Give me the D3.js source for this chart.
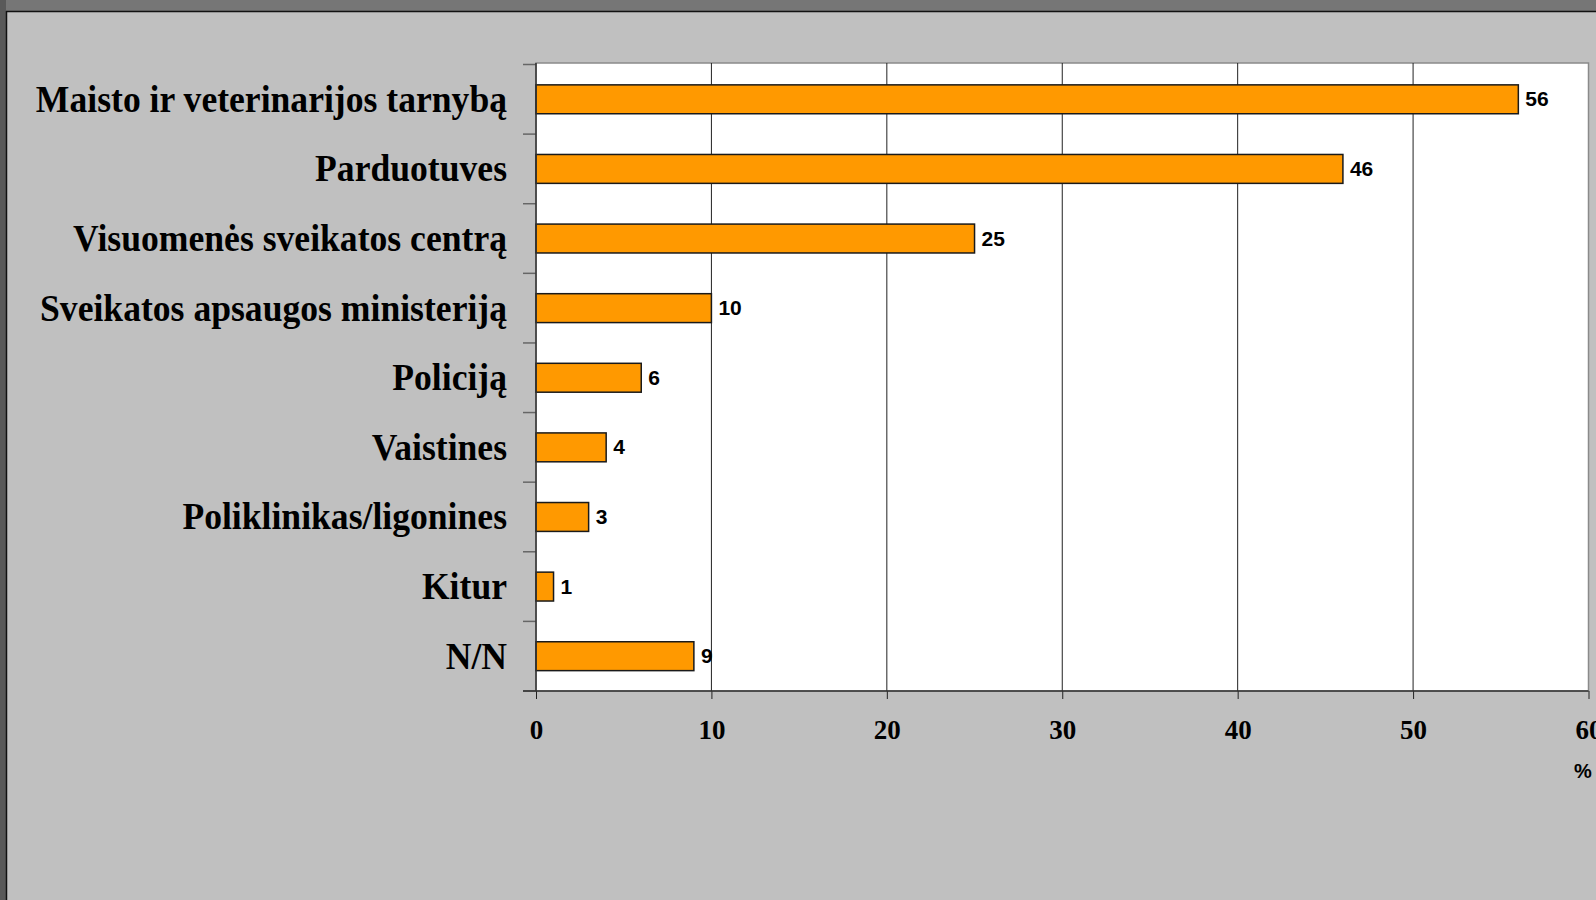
<!DOCTYPE html>
<html>
<head>
<meta charset="utf-8">
<script src="https://cdn.jsdelivr.net/npm/d3@7"></script>
<style>
  body { margin: 0; background: #c0c0c0; overflow: hidden; }
</style>
</head>
<body>
<div id="chart"></div>
<script>
// data (percent of respondents)
var categories = ["Maisto ir veterinarijos tarnybą", "Parduotuves", "Visuomenės sveikatos centrą",
                  "Sveikatos apsaugos ministeriją", "Policiją", "Vaistines",
                  "Poliklinikas/ligonines", "Kitur", "N/N"];
var values = [56, 46, 25, 10, 6, 4, 3, 1, 9];
var xTicks = [0, 10, 20, 30, 40, 50, 60];
var unitLabel = "%";

var width = 1596,
    height = 900;

var plot = { left: 536, right: 1588.5, top: 63, bottom: 691 };

var svg = d3.select("#chart")
    .append("svg")
    .attr("width", width)
    .attr("height", height);

// window frame: dark strips on top and left, then the grey sheet
svg.append("rect").attr("x", 0).attr("y", 0).attr("width", width).attr("height", height).attr("fill", "#c0c0c0");
svg.append("rect").attr("x", 0).attr("y", 0).attr("width", width).attr("height", 11).attr("fill", "#767676");
svg.append("rect").attr("x", 0).attr("y", 0).attr("width", 6).attr("height", height).attr("fill", "#595959");
svg.append("line").attr("x1", 6.5).attr("x2", 6.5).attr("y1", 11).attr("y2", height)
    .attr("stroke", "#111").attr("stroke-width", 1.5);
svg.append("line").attr("x1", 6).attr("x2", width).attr("y1", 11.5).attr("y2", 11.5)
    .attr("stroke", "#111").attr("stroke-width", 1.5);

var x = d3.scaleLinear().domain([0, 60]).range([plot.left, plot.right]);

var y = d3.scaleBand()
    .domain(categories)
    .range([plot.top + 1.5, plot.bottom])
    .paddingInner(0.585)
    .paddingOuter(0.2925);

// plot area
svg.append("rect")
    .attr("x", plot.left)
    .attr("y", plot.top)
    .attr("width", plot.right - plot.left)
    .attr("height", plot.bottom - plot.top)
    .attr("fill", "#fff")
    .attr("stroke", "#8a8a8a")
    .attr("stroke-width", 1.5);

// vertical gridlines
svg.selectAll(".grid")
    .data(xTicks.filter(function(d) { return d > 0 && d < 60; }))
    .enter().append("line")
    .attr("class", "grid")
    .attr("x1", function(d) { return x(d); })
    .attr("x2", function(d) { return x(d); })
    .attr("y1", plot.top)
    .attr("y2", plot.bottom)
    .attr("stroke", "#222")
    .attr("stroke-width", 1);

// bars
svg.selectAll(".bar")
    .data(values)
    .enter().append("rect")
    .attr("class", "bar")
    .attr("x", x(0))
    .attr("y", function(d, i) { return y(categories[i]); })
    .attr("width", function(d) { return x(d) - x(0); })
    .attr("height", y.bandwidth())
    .attr("fill", "#ff9900")
    .attr("stroke", "#1a1a1a")
    .attr("stroke-width", 1.5);

// value labels
svg.selectAll(".val")
    .data(values)
    .enter().append("text")
    .attr("class", "val")
    .attr("x", function(d) { return x(d) + 7; })
    .attr("y", function(d, i) { return y(categories[i]) + y.bandwidth() / 2 + 7; })
    .attr("font-family", "'Liberation Sans', Arial, sans-serif")
    .attr("font-weight", "bold")
    .attr("font-size", "21px")
    .attr("fill", "#000")
    .text(function(d) { return d; });

// y axis: line, category boundary ticks and labels
var step = y.step();
var boundaries = categories.map(function(c) { return y(c) - (step - y.bandwidth()) / 2; });
boundaries.push(plot.bottom);

svg.selectAll(".ytick")
    .data(boundaries)
    .enter().append("line")
    .attr("class", "ytick")
    .attr("x1", plot.left - 13)
    .attr("x2", plot.left)
    .attr("y1", function(d) { return d; })
    .attr("y2", function(d) { return d; })
    .attr("stroke", "#666")
    .attr("stroke-width", 1.5);

svg.append("line")
    .attr("x1", plot.left).attr("x2", plot.left)
    .attr("y1", plot.top).attr("y2", plot.bottom)
    .attr("stroke", "#333").attr("stroke-width", 1.5);

// category labels, a little condensed like the original
svg.selectAll(".ylab")
    .data(categories)
    .enter().append("text")
    .attr("class", "ylab")
    .attr("transform", function(d) {
        return "translate(507," + (y(d) + y.bandwidth() / 2 + 12.5) + ") scale(0.95,1)";
    })
    .attr("text-anchor", "end")
    .attr("font-family", "'Liberation Serif', 'Times New Roman', serif")
    .attr("font-weight", "bold")
    .attr("font-size", "37.5px")
    .attr("fill", "#000")
    .text(function(d) { return d; });

// x axis
var xAxis = d3.axisBottom(x)
    .tickValues(xTicks)
    .tickSizeInner(8)
    .tickSizeOuter(0)
    .tickPadding(21);

var gx = svg.append("g")
    .attr("transform", "translate(0," + plot.bottom + ")")
    .call(xAxis);

gx.select(".domain").remove();
gx.append("line")
    .attr("x1", plot.left - 13).attr("x2", plot.right)
    .attr("y1", 0).attr("y2", 0)
    .attr("stroke", "#333").attr("stroke-width", 1.5);
gx.selectAll(".tick line").attr("stroke", "#222");
gx.selectAll(".tick text")
    .attr("font-family", "'Liberation Serif', 'Times New Roman', serif")
    .attr("font-weight", "bold")
    .attr("font-size", "27px")
    .attr("fill", "#000");

// unit label
svg.append("text")
    .attr("x", 1583)
    .attr("y", 778)
    .attr("text-anchor", "middle")
    .attr("font-family", "'Liberation Sans', Arial, sans-serif")
    .attr("font-weight", "bold")
    .attr("font-size", "20px")
    .attr("fill", "#000")
    .text(unitLabel);
</script>
</body>
</html>
